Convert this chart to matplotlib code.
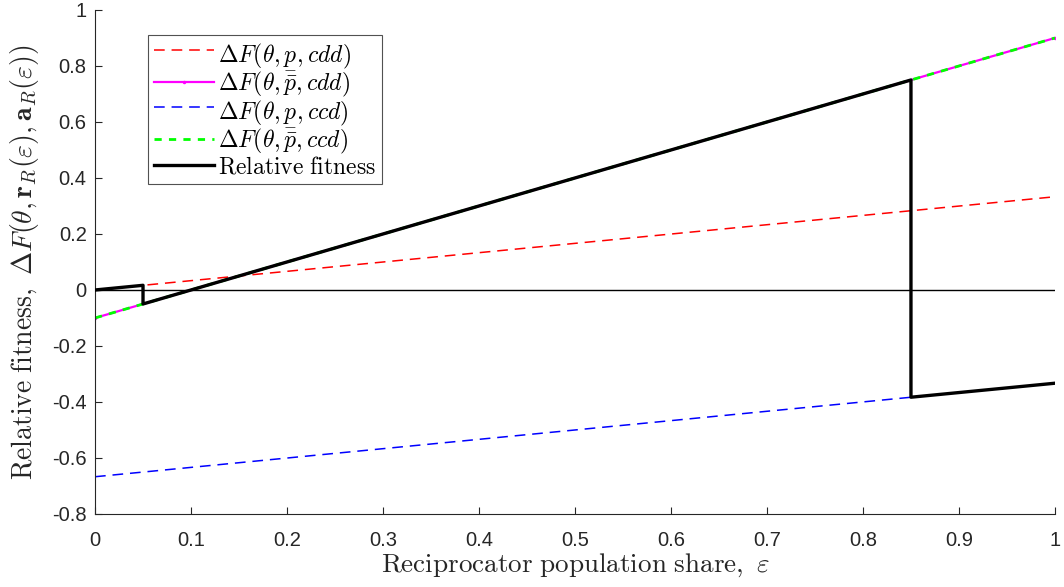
import matplotlib
matplotlib.use("Agg")
import matplotlib.pyplot as plt

plt.rcParams['mathtext.fontset'] = 'cm'
plt.rcParams['font.family'] = ['Liberation Sans', 'DejaVu Sans']

# Endpoints of the linear fitness differences over the reciprocator share
eps = [0.0, 1.0]
df_p_cdd = [0.0, 0.333]
df_pbar_cdd = [-0.1, 0.9]
df_p_ccd = [-0.667, -0.333]
df_pbar_ccd = [-0.1, 0.9]

# Piecewise relative fitness (jumps at the regime switches)
eps_rf = [0.0, 0.05, 0.05, 0.85, 0.85, 1.0]
rel_fit = [0.0, 0.0167, -0.05, 0.75, -0.383, -0.333]

xticks = [0, 0.1, 0.2, 0.3, 0.4, 0.5, 0.6, 0.7, 0.8, 0.9, 1]
xticklabels = ['0', '0.1', '0.2', '0.3', '0.4', '0.5', '0.6', '0.7', '0.8', '0.9', '1']
yticks = [-0.8, -0.6, -0.4, -0.2, 0, 0.2, 0.4, 0.6, 0.8, 1]
yticklabels = ['-0.8', '-0.6', '-0.4', '-0.2', '0', '0.2', '0.4', '0.6', '0.8', '1']

fig = plt.figure(figsize=(10.64, 5.87), dpi=100)
ax = fig.add_axes([0.0893, 0.1244, 0.9022, 0.8586])

pl = r'\underset{-}{p}'
ax.plot(eps, df_p_cdd, color='#ff0000', lw=1.1, ls=(0, (7, 4.5)),
        label=r'$\Delta F(\theta, ' + pl + r', cdd)$')
ax.plot(eps, df_pbar_cdd, color='#ff00ff', lw=1.6, ls='-', marker='.', markersize=3,
        label=r'$\Delta F(\theta, \bar{p}, cdd)$')
ax.plot(eps, df_p_ccd, color='#0000ff', lw=1.1, ls=(0, (7, 4.5)),
        label=r'$\Delta F(\theta, ' + pl + r', ccd)$')
ax.plot(eps, df_pbar_ccd, color='#00ff00', lw=2.0, ls=(0, (2.6, 2.6)),
        label=r'$\Delta F(\theta, \bar{p}, ccd)$')
ax.axhline(0, color='black', lw=1.0, zorder=4)
ax.plot(eps_rf, rel_fit, color='black', lw=2.4, zorder=5,
        label=r'$\mathrm{Relative\ fitness}\hspace{0.45}$')

ax.set_xlim(0, 1)
ax.set_ylim(-0.8, 1)
ax.set_xticks(xticks)
ax.set_xticklabels(xticklabels)
ax.set_yticks(yticks)
ax.set_yticklabels(yticklabels)
ax.tick_params(direction='in', length=5, width=0.8, labelsize=14.5, colors='#262626')
ax.tick_params(axis='x', pad=12)
ax.tick_params(axis='y', pad=6)
for s in ['top', 'right']:
    ax.spines[s].set_visible(False)
for s in ['left', 'bottom']:
    ax.spines[s].set_color('#262626')
    ax.spines[s].set_linewidth(0.8)

ax.set_xlabel(r'$\mathrm{Reciprocator\ population\ share,}\ \varepsilon$',
              fontsize=19.5, color='#262626', labelpad=1)
ax.set_ylabel(r'$\mathrm{Relative\ fitness,}\ \Delta F(\theta, \mathbf{r}_R(\varepsilon), \mathbf{a}_R(\varepsilon))$',
              fontsize=20, color='#262626', labelpad=8)

leg = ax.legend(loc='upper left', bbox_to_anchor=(0.0552, 0.950), fontsize=17,
                frameon=True, fancybox=False, edgecolor='#262626', handlelength=2.55,
                handletextpad=0.15, labelspacing=0.0, borderpad=0.25, borderaxespad=0)
leg.get_frame().set_linewidth(0.8)

fig.savefig('out.png', dpi=100)
